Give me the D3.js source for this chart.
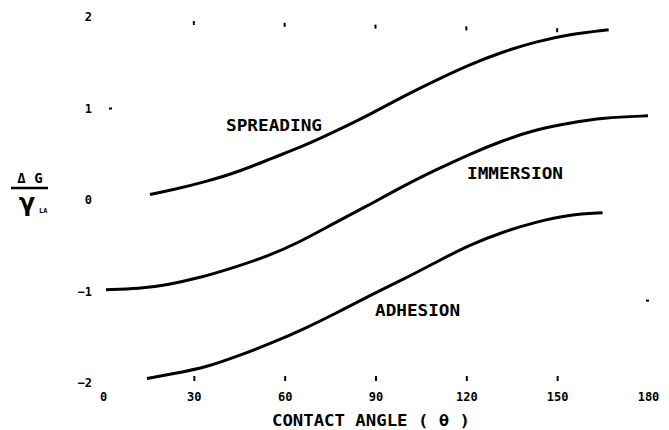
<!DOCTYPE html>
<html>
<head>
<meta charset="utf-8">
<script src="https://cdn.jsdelivr.net/npm/d3@7"></script>
<style>
  html, body { margin: 0; padding: 0; background: #fff; }
  svg { display: block; }
  text { font-family: "DejaVu Sans Mono", "Liberation Mono", monospace; font-weight: bold; fill: #000; }
</style>
</head>
<body>
<svg id="chart" width="669" height="430"></svg>
<script>
// ---- data ----
const xTicks = [0, 30, 60, 90, 120, 150, 180];
const yTicks = [-2, -1, 0, 1, 2];

const spreadingTheta = [15.5, 23, 34, 45, 56, 67, 78, 89, 99, 110, 121, 132, 143, 154, 167];
const spreadingValue = [0.06, 0.11, 0.20, 0.31, 0.46, 0.60, 0.77, 0.95, 1.13, 1.31, 1.48, 1.62, 1.73, 1.81, 1.86];

const immersionTheta = [1, 12, 21, 32, 43, 54, 65, 76, 87, 99, 110, 121, 132, 143, 154, 165, 180];
const immersionValue = [-0.98, -0.97, -0.93, -0.85, -0.74, -0.62, -0.46, -0.26, -0.07, 0.15, 0.33, 0.50, 0.65, 0.77, 0.84, 0.90, 0.92];

const adhesionTheta = [14.5, 23, 34, 45, 56, 67, 78, 89, 99, 110, 121, 132, 143, 154, 165];
const adhesionValue = [-1.95, -1.90, -1.83, -1.70, -1.56, -1.40, -1.22, -1.03, -0.87, -0.68, -0.49, -0.35, -0.24, -0.16, -0.14];

const curveLabels = ["SPREADING", "IMMERSION", "ADHESION"];
const xTitle = "CONTACT ANGLE ( θ )";

// ---- drawing ----
const svg = d3.select("#chart");
const x = d3.scaleLinear().domain([0, 180]).range([103, 648]);
const y = d3.scaleLinear().domain([-2, 2]).range([383, 17]);

const zip = (a, b) => a.map((t, i) => [t, b[i]]);
const line = d3.line().x(d => x(d[0])).y(d => y(d[1])).curve(d3.curveBasis);

const series = [
  zip(spreadingTheta, spreadingValue),
  zip(immersionTheta, immersionValue),
  zip(adhesionTheta, adhesionValue)
];

svg.append("g").selectAll("path").data(series).join("path")
  .attr("d", line)
  .attr("fill", "none")
  .attr("stroke", "#000")
  .attr("stroke-width", 3);

// bottom axis: tick marks above separate labels, no domain line
const xAxis = svg.append("g")
  .attr("transform", `translate(0,${y(-2) - 7})`)
  .call(d3.axisBottom(x).tickValues(xTicks).tickSize(5).tickPadding(11).tickFormat(d3.format("d")));
xAxis.select(".domain").remove();
xAxis.selectAll(".tick line").attr("stroke", "#000").attr("stroke-width", 2)
  .attr("display", d => (d === 0 || d === 180) ? "none" : null);
xAxis.selectAll(".tick text").style("font-family", "DejaVu Sans Mono").style("font-weight", "bold")
  .style("font-size", "12px").attr("fill", "#000");

// top stray ticks at y = 2
svg.append("g").selectAll("line").data(xTicks.filter(d => d > 0 && d < 180)).join("line")
  .attr("x1", d => x(d)).attr("x2", d => x(d))
  .attr("y1", (d, i) => y(2) + 4 + i * 1.8).attr("y2", (d, i) => y(2) + 8 + i * 1.8)
  .attr("stroke", "#000").attr("stroke-width", 2);

// left axis: labels only
const yAxis = svg.append("g")
  .attr("transform", `translate(95,0)`)
  .call(d3.axisLeft(y).tickValues(yTicks).tickSize(0).tickPadding(3).tickFormat(d3.format("d")));
yAxis.select(".domain").remove();
yAxis.selectAll(".tick text").style("font-family", "DejaVu Sans Mono").style("font-weight", "bold")
  .style("font-size", "12px").attr("fill", "#000");

// small tick marks visible in the picture
svg.append("line").attr("x1", 109).attr("x2", 112).attr("y1", y(1)).attr("y2", y(1))
  .attr("stroke", "#000").attr("stroke-width", 2);
svg.append("line").attr("x1", x(180) - 2).attr("x2", x(180) + 1).attr("y1", y(-1.1)).attr("y2", y(-1.1))
  .attr("stroke", "#000").attr("stroke-width", 2);

// curve labels
const labelPos = [[226, 131, 96], [467, 179, 96], [375, 316, 85]];
svg.append("g").selectAll("text").data(curveLabels).join("text")
  .attr("x", (d, i) => labelPos[i][0])
  .attr("y", (d, i) => labelPos[i][1])
  .attr("textLength", (d, i) => labelPos[i][2])
  .attr("lengthAdjust", "spacingAndGlyphs")
  .style("font-size", "16px")
  .text(d => d);

// x title
svg.append("text").attr("x", 272).attr("y", 426)
  .attr("textLength", 198).attr("lengthAdjust", "spacingAndGlyphs")
  .style("font-size", "16px").text(xTitle);

// y title  ΔG / γ_LA
svg.append("text").attr("x", 30).attr("y", 183).attr("text-anchor", "middle")
  .style("font-size", "14px").text("Δ G");
svg.append("line").attr("x1", 11).attr("x2", 48).attr("y1", 188).attr("y2", 188)
  .attr("stroke", "#000").attr("stroke-width", 2.5);
const yl = svg.append("text").attr("x", 27).attr("y", 211).attr("text-anchor", "middle")
  .style("font-family", "DejaVu Sans").style("font-size", "24px");
yl.append("tspan").text("γ");
svg.append("text").attr("x", 39).attr("y", 213)
  .style("font-size", "7px").text("LA");
</script>
</body>
</html>
